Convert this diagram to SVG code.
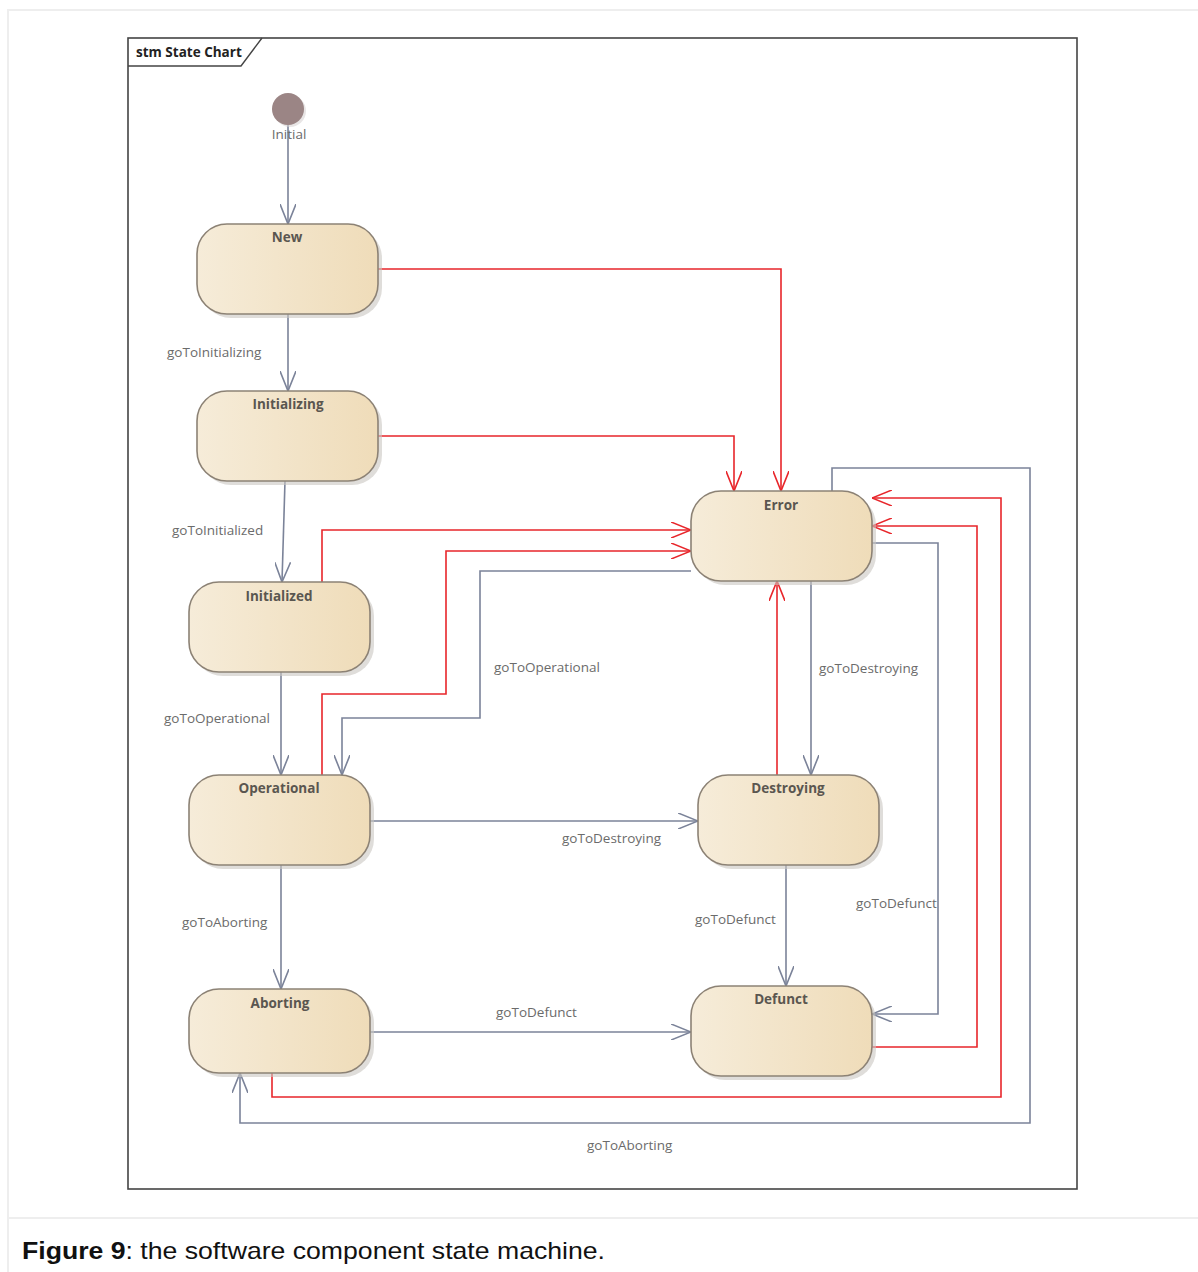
<svg xmlns="http://www.w3.org/2000/svg" width="1198" height="1272" viewBox="0 0 1198 1272">
<defs>
<linearGradient id="g" x1="0" y1="0" x2="1" y2="0">
<stop offset="0" stop-color="#f6ecd9"/>
<stop offset="1" stop-color="#efdcb9"/>
</linearGradient>
<marker id="ag" viewBox="0 0 20 16" refX="20" refY="8" markerWidth="20" markerHeight="16" markerUnits="userSpaceOnUse" orient="auto">
<path d="M0,0 L20,8 L0,16" fill="none" stroke="#7b8399" stroke-width="1.6"/>
</marker>
<marker id="ar" viewBox="0 0 20 16" refX="20" refY="8" markerWidth="20" markerHeight="16" markerUnits="userSpaceOnUse" orient="auto">
<path d="M0,0 L20,8 L0,16" fill="none" stroke="#e8262b" stroke-width="1.6"/>
</marker>
</defs>
<style>
.st rect.b{fill:url(#g);stroke:#8c8275;stroke-width:1.6}
.st rect.s{fill:#c9c6c2;opacity:0.6}
.st text{font-family:"Open Sans","DejaVu Sans",sans-serif;font-weight:bold;font-size:13.5px;fill:#5a5650;text-anchor:middle}
.g{fill:none;stroke:#7b8399;stroke-width:1.6;marker-end:url(#ag)}
.r{fill:none;stroke:#e8262b;stroke-width:1.6;marker-end:url(#ar)}
.lbl{font-family:"Open Sans","DejaVu Sans",sans-serif;font-size:13.5px;fill:#6b6b6b}
</style>
<rect width="1198" height="1272" fill="#fff"/>
<g id="page" fill="none" stroke="#eeeeee" stroke-width="2">
<path d="M8,1272 V10 H1198"/>
<path d="M8,1218 H1198"/>
</g>
<g id="frame">
<rect x="128" y="38" width="949" height="1151" fill="none" stroke="#444" stroke-width="1.6"/>
<path d="M128,66 H241 L262,38" fill="none" stroke="#444" stroke-width="1.4"/>
<text x="136" y="57" font-family="'Open Sans','DejaVu Sans',sans-serif" font-weight="bold" font-size="13.5" fill="#222">stm State Chart</text>
</g>
<g id="connectors">
<path class="g" d="M288,125 V224"/>
<path class="g" d="M288,314 V391"/>
<path class="g" d="M285,481 L282,582"/>
<path class="g" d="M281,672 V775"/>
<path class="g" d="M691,571 H480 V718 H342 V775"/>
<path class="g" d="M370,821 H698"/>
<path class="g" d="M811,581 V775"/>
<path class="g" d="M281,865 V989"/>
<path class="g" d="M786,865 V986"/>
<path class="g" d="M370,1032 H691"/>
<path class="g" d="M872,543 H938 V1014 H872"/>
<path class="g" d="M832,491 V468 H1030 V1123 H240 V1073"/>
<path class="r" d="M378,269 H781 V491"/>
<path class="r" d="M378,436 H734 V491"/>
<path class="r" d="M322,582 V530 H691"/>
<path class="r" d="M322,775 V694 H446 V551 H691"/>
<path class="r" d="M777,775 V581"/>
<path class="r" d="M872,1047 H977 V526 H872"/>
<path class="r" d="M272,1073 V1097 H1001 V498 H872"/>
<text class="lbl" x="167" y="357">goToInitializing</text>
<text class="lbl" x="172" y="535">goToInitialized</text>
<text class="lbl" x="164" y="723">goToOperational</text>
<text class="lbl" x="494" y="672">goToOperational</text>
<text class="lbl" x="562" y="843">goToDestroying</text>
<text class="lbl" x="819" y="673">goToDestroying</text>
<text class="lbl" x="182" y="927">goToAborting</text>
<text class="lbl" x="695" y="924">goToDefunct</text>
<text class="lbl" x="496" y="1017">goToDefunct</text>
<text class="lbl" x="856" y="908">goToDefunct</text>
<text class="lbl" x="587" y="1150">goToAborting</text>
</g>
<g id="initial">
<circle cx="290" cy="111" r="16" fill="#d8d4d4" opacity="0.6"/>
<circle cx="288" cy="109" r="16" fill="#9b8585"/>
<text x="289" y="139" font-family="'Open Sans','DejaVu Sans',sans-serif" font-size="13.5" fill="#6b6b6b" text-anchor="middle">Initial</text>
</g>
<g id="new" class="st"><rect class="s" x="201" y="228" width="181" height="90" rx="30"/><rect class="b" x="197" y="224" width="181" height="90" rx="30"/><text x="287" y="242">New</text></g>
<g id="initializing" class="st"><rect class="s" x="201" y="395" width="181" height="90" rx="30"/><rect class="b" x="197" y="391" width="181" height="90" rx="30"/><text x="288" y="409">Initializing</text></g>
<g id="initialized" class="st"><rect class="s" x="193" y="586" width="181" height="90" rx="30"/><rect class="b" x="189" y="582" width="181" height="90" rx="30"/><text x="279" y="601">Initialized</text></g>
<g id="operational" class="st"><rect class="s" x="193" y="779" width="181" height="90" rx="30"/><rect class="b" x="189" y="775" width="181" height="90" rx="30"/><text x="279" y="793">Operational</text></g>
<g id="aborting" class="st"><rect class="s" x="193" y="993" width="181" height="84" rx="30"/><rect class="b" x="189" y="989" width="181" height="84" rx="30"/><text x="280" y="1008">Aborting</text></g>
<g id="error" class="st"><rect class="s" x="695" y="495" width="181" height="90" rx="30"/><rect class="b" x="691" y="491" width="181" height="90" rx="30"/><text x="781" y="510">Error</text></g>
<g id="destroying" class="st"><rect class="s" x="702" y="779" width="181" height="90" rx="30"/><rect class="b" x="698" y="775" width="181" height="90" rx="30"/><text x="788" y="793">Destroying</text></g>
<g id="defunct" class="st"><rect class="s" x="695" y="990" width="181" height="90" rx="30"/><rect class="b" x="691" y="986" width="181" height="90" rx="30"/><text x="781" y="1004">Defunct</text></g>
<g id="caption">
<text x="22" y="1259" font-family="'Liberation Sans',Arial,sans-serif" font-size="24" fill="#111" textLength="583" lengthAdjust="spacingAndGlyphs"><tspan font-weight="bold">Figure 9</tspan>: the software component state machine.</text>
</g>
</svg>
